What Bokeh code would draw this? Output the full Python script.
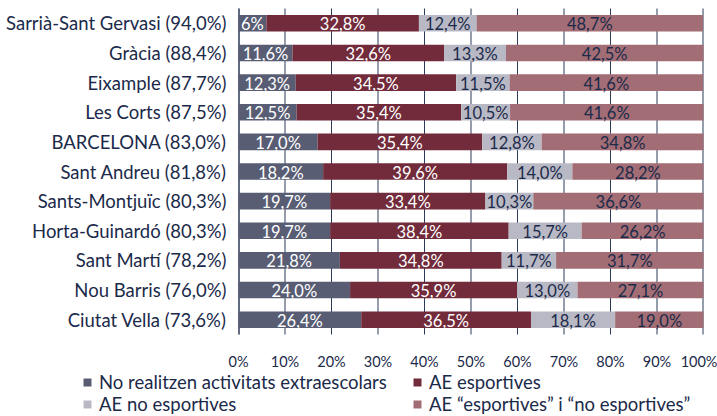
from bokeh.plotting import figure
from bokeh.models import ColumnDataSource, Legend, LegendItem, FixedTicker, Range1d, LinearAxis
from bokeh.core.properties import value
from bokeh.embed import file_html
from bokeh.resources import INLINE

districts = ["Sarrià-Sant Gervasi (94,0%)", "Gràcia (88,4%)", "Eixample (87,7%)", "Les Corts (87,5%)",
             "BARCELONA (83,0%)", "Sant Andreu (81,8%)", "Sants-Montjuïc (80,3%)", "Horta-Guinardó (80,3%)",
             "Sant Martí (78,2%)", "Nou Barris (76,0%)", "Ciutat Vella (73,6%)"]
no_ae = [6, 11.6, 12.3, 12.5, 17.0, 18.2, 19.7, 19.7, 21.8, 24.0, 26.4]
ae_esp = [32.8, 32.6, 34.5, 35.4, 35.4, 39.6, 33.4, 38.4, 34.8, 35.9, 36.5]
ae_noesp = [12.4, 13.3, 11.5, 10.5, 12.8, 14.0, 10.3, 15.7, 11.7, 13.0, 18.1]
ae_both = [48.7, 42.5, 41.6, 41.6, 34.8, 28.2, 36.6, 26.2, 31.7, 27.1, 19.0]
series_names = ["No realitzen activitats extraescolars", "AE esportives", "AE no esportives",
                "AE “esportives” i “no esportives”"]
colors = ["#585d73", "#722b3b", "#b9b9c5", "#a26d74"]
label_colors = ["white", "white", "#1b2a4a", "#1b2a4a"]
ticks = [0, 10, 20, 30, 40, 50, 60, 70, 80, 90, 100]

NAVY = "#1b2a4a"
GRID = "#2c3b58"
FONT = "Lato"

# canvas layout (pixels): whole canvas is the frame, axes sit inside at fixed positions
W, H = 717, 416
PLOT_L, PLOT_R = 238, 703          # where 0% and 100% fall
ROW0, ROW_STEP = 22.8, 29.64       # centre of first bar, distance between bars
PX = 100 / (PLOT_R - PLOT_L)       # one pixel in data units

series = [no_ae, ae_esp, ae_noesp, ae_both]
keys = ["s0", "s1", "s2", "s3"]
n = len(districts)
ypos = list(range(n))

def fmt(v):
    if isinstance(v, int):
        return f"{v}%"
    return f"{v:.1f}".replace(".", ",") + "%"

x0 = -PLOT_L * PX
x1 = (W - PLOT_L) * PX
y_top = -ROW0 / ROW_STEP
y_bottom = (H - ROW0) / ROW_STEP

p = figure(width=W, height=H, x_range=Range1d(x0, x1), y_range=Range1d(y_bottom, y_top),
           x_axis_location=None, y_axis_location=None,
           output_backend="svg", toolbar_location=None, min_border=0)
p.outline_line_color = None
p.grid.visible = False

# vertical grid lines as 1px filled strips behind the bars
g_left = [min(max(t - PX / 2, 0), 100 - PX) for t in ticks]
g_right = [l + PX for l in g_left]
p.quad(left=g_left[:1], right=g_right[:1], bottom=-0.5, top=n - 0.5,
       fill_color=GRID, line_color=None)
p.quad(left=g_left, right=g_right, bottom=-0.5, top=n - 0.5,
       fill_color=GRID, line_color=None)

data = {"y": ypos}
for k, s in zip(keys, series):
    data[k] = s
src = ColumnDataSource(data)
renderers = p.hbar_stack(keys, y="y", height=0.56, color=colors, line_color=None, source=src)

# labels at segment centres
for i, (s, c) in enumerate(zip(series, label_colors)):
    lefts = [sum(ser[j] for ser in series[:i]) for j in range(n)]
    xs = [l + v / 2 for l, v in zip(lefts, s)]
    lsrc = ColumnDataSource(dict(x=xs, y=ypos, t=[fmt(v) for v in s]))
    p.text(x="x", y="y", text="t", source=lsrc, text_align="center", text_baseline="middle",
           text_color=c, text_font=value(FONT), text_font_size="16.5px", y_offset=1)

xax = LinearAxis(fixed_location=n - 0.5, ticker=FixedTicker(ticks=ticks),
                 major_label_overrides={t: f"{t}%" for t in ticks},
                 axis_line_color=None, major_tick_line_color=None, minor_tick_line_color=None,
                 major_label_standoff=12, major_label_text_font=FONT,
                 major_label_text_font_size="14.5px", major_label_text_color=NAVY)
p.add_layout(xax, "below")

yax = LinearAxis(fixed_location=0, ticker=FixedTicker(ticks=ypos),
                 major_label_overrides={i: d for i, d in zip(ypos, districts)},
                 axis_line_color=None, major_tick_line_color=None, minor_tick_line_color=None,
                 major_label_standoff=6, major_label_text_font=FONT,
                 major_label_text_font_size="18.5px", major_label_text_color=NAVY)
p.add_layout(yax, "left")

# legend: two single-column legends side by side at the bottom
items = [LegendItem(label=nm, renderers=[r]) for nm, r in zip(series_names, renderers)]

def make_legend(its, x):
    return Legend(items=its, orientation="vertical", location=(x, 1),
                  label_text_font=FONT, label_text_font_size="18.5px", label_text_color=NAVY,
                  glyph_width=10, glyph_height=10, label_height=20, label_standoff=7,
                  spacing=0, padding=0, margin=0, border_line_color=None,
                  background_fill_alpha=0)

p.add_layout(make_legend([items[0], items[2]], 82), "center")
p.add_layout(make_legend([items[1], items[3]], 412), "center")

open("out.html", "w").write(file_html(p, INLINE))
